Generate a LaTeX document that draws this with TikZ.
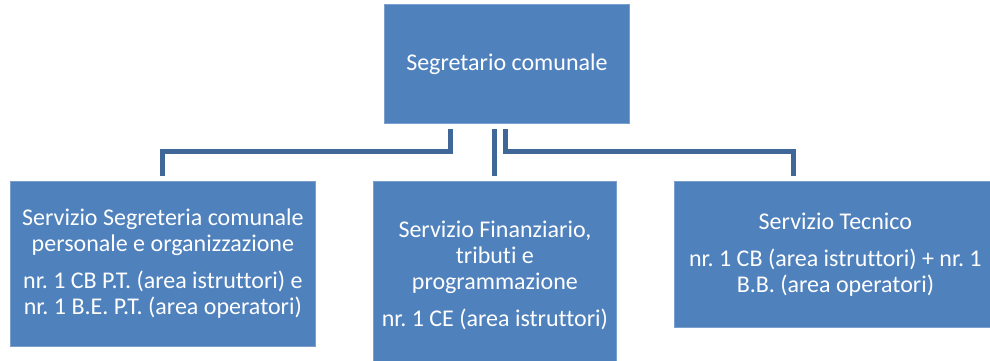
\documentclass[tikz,border=0pt]{standalone}
\usepackage{fontspec}
\setmainfont{Carlito}[Ligatures=NoCommon]
\frenchspacing
\definecolor{boxblue}{RGB}{79,129,189}
\definecolor{linkblue}{RGB}{63,103,151}

\begin{document}
\begin{tikzpicture}[x=1pt, y=-1pt,
                  every node/.style={font=\fontsize{24}{26}\selectfont, text=white},
                  unit/.style={rectangle, fill=boxblue, draw=boxblue!75!white, line width=0.8pt, anchor=north west, inner sep=0pt, align=center},
                  link/.style={draw=linkblue, line width=5pt}
            ]
            \clip (0,0) rectangle (990,361);

            % Nodes
            \node (sec) [unit, minimum width=245pt, minimum height=119pt] at (384,4) {Segretario comunale};
            \node (segr) [unit, minimum width=305pt, minimum height=165pt] at (10,181) {Servizio Segreteria comunale\\personale e organizzazione\\[11pt]nr. 1 CB P.T. (area istruttori) e\\nr. 1 B.E. P.T. (area operatori)};
            \node (fin) [unit, minimum width=243pt, minimum height=188pt] at (373,181) {Servizio Finanziario,\\tributi e\\programmazione\\[11pt]nr. 1 CE (area istruttori)};
            \node (tec) [unit, minimum width=322pt, minimum height=146pt] at (674,181) {Servizio Tecnico\\[11pt]nr. 1 CB (area istruttori) + nr. 1\\B.B. (area operatori)};

            % Connectors
            \draw [link] ([xshift=-56.5pt, yshift=-5pt]sec.south) -- ++(0,23) -| ([yshift=5pt]segr.north);
            \draw [link] ([xshift=-12pt, yshift=-5pt]sec.south) -- ([yshift=5pt]fin.north);
            \draw [link] ([xshift=-1pt, yshift=-5pt]sec.south) -- ++(0,23) -| ([xshift=-41.5pt, yshift=5pt]tec.north);

      \end{tikzpicture}
\end{document}
